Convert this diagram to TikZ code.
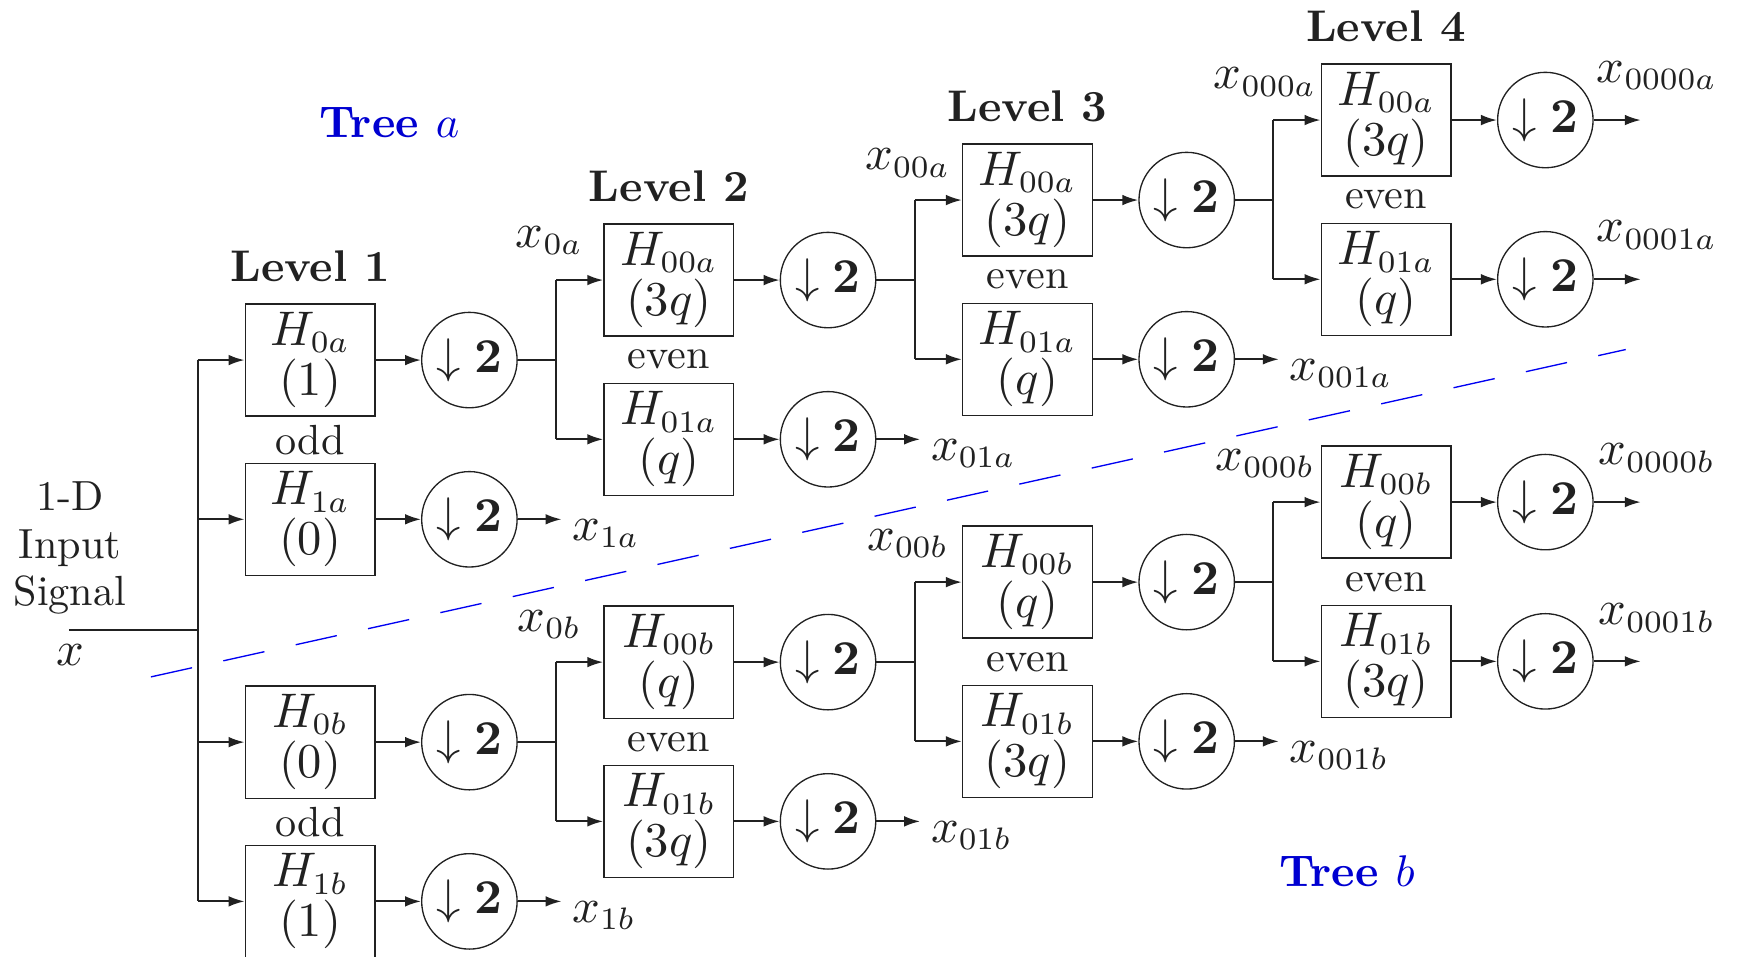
\documentclass[tikz,border=0pt]{standalone}
\usetikzlibrary{arrows.meta}
\definecolor{ink}{gray}{0.13}
\definecolor{treeblue}{rgb}{0,0,0.82}
\definecolor{dashblue}{rgb}{0,0,0.95}
\begin{document}
\begin{tikzpicture}[x=0.25pt,y=-0.25pt,
  filt/.style={draw=ink, line width=0.3pt, minimum width=29.25pt, minimum height=25.25pt,
    inner sep=0pt, align=center, text=ink, font=\fontsize{10.6}{11.25}\selectfont},
  dsm/.style={circle, draw=ink, line width=0.3pt, minimum size=21.5pt, inner sep=0pt, text=ink,
    font=\fontsize{10.5}{12}\selectfont},
  conn/.style={draw=ink, line width=0.45pt},
  arr/.style={conn, -{Latex[length=3.6pt,width=2.4pt]}},
  lab/.style={text=ink, inner sep=0pt, font=\fontsize{10.6}{12.7}\selectfont},
  rlab/.style={text=ink, inner sep=0pt, font=\fontsize{9.5}{10.75}\selectfont},
  head/.style={text=ink, font=\bfseries, inner sep=0pt, anchor=base},
  treelab/.style={text=treeblue, font=\bfseries, inner sep=0pt, anchor=base},
  outlab/.style={lab, anchor=base west}
]
\useasboundingbox (0,0) rectangle (1568,862);

% ---------------- filters (tree a) ----------------
\node[filt] (fa10) at (279.5,324.5) {$H_{0a}$\\$(1)$};
\node[filt] (fa11) at (279.5,468.0) {$H_{1a}$\\$(0)$};
\node[filt] (fa20) at (602.7,252.4) {$H_{00a}$\\$(3q)$};
\node[filt] (fa21) at (602.7,395.9) {$H_{01a}$\\$(q)$};
\node[filt] (fa30) at (925.9,180.3) {$H_{00a}$\\$(3q)$};
\node[filt] (fa31) at (925.9,323.8) {$H_{01a}$\\$(q)$};
\node[filt] (fa40) at (1249.1,108.2) {$H_{00a}$\\$(3q)$};
\node[filt] (fa41) at (1249.1,251.7) {$H_{01a}$\\$(q)$};
% ---------------- filters (tree b) ----------------
\node[filt] (fb10) at (279.5,668.8) {$H_{0b}$\\$(0)$};
\node[filt] (fb11) at (279.5,812.3) {$H_{1b}$\\$(1)$};
\node[filt] (fb20) at (602.7,596.7) {$H_{00b}$\\$(q)$};
\node[filt] (fb21) at (602.7,740.2) {$H_{01b}$\\$(3q)$};
\node[filt] (fb30) at (925.9,524.6) {$H_{00b}$\\$(q)$};
\node[filt] (fb31) at (925.9,668.1) {$H_{01b}$\\$(3q)$};
\node[filt] (fb40) at (1249.1,452.5) {$H_{00b}$\\$(q)$};
\node[filt] (fb41) at (1249.1,596.0) {$H_{01b}$\\$(3q)$};

% ---------------- downsamplers ----------------
\foreach \t in {a,b}{
  \foreach \l/\cx in {1/423,2/746.2,3/1069.4,4/1392.6}{
    \foreach \r in {0,1}{
      \path (f\t\l\r.center) -| coordinate (c\t\l\r) (\cx,0);
      \node[dsm] (d\t\l\r) at (c\t\l\r) {$\downarrow\mathbf{2}$};
      \draw[arr] (f\t\l\r.east) -- (d\t\l\r.west);
    }
  }
}

% ---------------- input ----------------
\coordinate (in) at (62,568);
\coordinate (br1) at (178,568);
\draw[conn] (in) -- (br1);
\draw[conn] (br1 |- fa10.west) -- (br1 |- fb11.west);
\foreach \n in {fa10,fa11,fb10,fb11} \draw[arr] (br1 |- \n.west) -- (\n.west);

% ---------------- branches between levels ----------------
\coordinate (ba2) at (501.2,324.5);
\coordinate (bb2) at (501.2,668.8);
\coordinate (ba3) at (824.4,252.4);
\coordinate (bb3) at (824.4,596.7);
\coordinate (ba4) at (1147.6,180.3);
\coordinate (bb4) at (1147.6,524.6);
\foreach \t in {a,b}{
  \foreach \l/\m in {1/2,2/3,3/4}{
    \draw[conn] (d\t\l0.east) -- (b\t\m);
    \draw[conn] (b\t\m |- f\t\m0.west) -- (b\t\m |- f\t\m1.west);
    \draw[arr] (b\t\m |- f\t\m0.west) -- (f\t\m0.west);
    \draw[arr] (b\t\m |- f\t\m1.west) -- (f\t\m1.west);
  }
}

% ---------------- outputs ----------------
\coordinate (oa1) at (506,468.0);
\coordinate (oa2) at (829.2,395.9);
\coordinate (oa3) at (1152.4,323.8);
\coordinate (oa40) at (1478.6,108.2);
\coordinate (oa41) at (1478.6,251.7);
\coordinate (ob1) at (506,812.3);
\coordinate (ob2) at (829.2,740.2);
\coordinate (ob3) at (1152.4,668.1);
\coordinate (ob40) at (1478.6,452.5);
\coordinate (ob41) at (1478.6,596.0);
\foreach \t in {a,b}{
  \draw[arr] (d\t11.east) -- (o\t1);
  \draw[arr] (d\t21.east) -- (o\t2);
  \draw[arr] (d\t31.east) -- (o\t3);
  \draw[arr] (d\t40.east) -- (o\t40);
  \draw[arr] (d\t41.east) -- (o\t41);
}

% ---------------- output labels ----------------
\node[outlab] (lx1a) at ([shift={(9,19)}]oa1) {$x_{1a}$};
\node[outlab] (lx01a) at ([shift={(9,19)}]oa2) {$x_{01a}$};
\node[outlab] (lx001a) at ([shift={(9,19)}]oa3) {$x_{001a}$};
\node[outlab] (lx1b) at ([shift={(9,19)}]ob1) {$x_{1b}$};
\node[outlab] (lx01b) at ([shift={(9,19)}]ob2) {$x_{01b}$};
\node[outlab] (lx001b) at ([shift={(9,19)}]ob3) {$x_{001b}$};
\node[lab, anchor=base] (lx0000a) at (1493,74) {$x_{0000a}$};
\node[lab, anchor=base] (lx0001a) at (1493,218) {$x_{0001a}$};
\node[lab, anchor=base] (lx0000b) at (1493,419) {$x_{0000b}$};
\node[lab, anchor=base] (lx0001b) at (1493,563) {$x_{0001b}$};

% ---------------- signal labels ----------------
\node[lab, anchor=base] (lx0a) at (495,223) {$x_{0a}$};
\node[lab, anchor=base] (lx0b) at (495,569) {$x_{0b}$};
\node[lab, anchor=base] (lx00a) at (818,153) {$x_{00a}$};
\node[lab, anchor=base] (lx00b) at (818,496) {$x_{00b}$};
\node[lab, anchor=base] (lx000a) at (1140,80) {$x_{000a}$};
\node[lab, anchor=base] (lx000b) at (1140,424) {$x_{000b}$};

% ---------------- odd / even ----------------
\node[rlab] (odda) at (279.5,396.3) {odd};
\node[rlab] (oddb) at (279.5,740.6) {odd};
\node[rlab] (evena2) at (602.7,324.2) {even};
\node[rlab] (evenb2) at (602.7,668.5) {even};
\node[rlab] (evena3) at (925.9,252.1) {even};
\node[rlab] (evenb3) at (925.9,596.4) {even};
\node[rlab] (evena4) at (1249.1,180.0) {even};
\node[rlab] (evenb4) at (1249.1,524.3) {even};

% ---------------- input labels ----------------
\node[rlab, align=center] (inlab) at (63,494) {1-D\\Input\\Signal};
\node[lab] (xin) at (63,590) {$x$};

% ---------------- headings ----------------
\node[head] (lev1) at (279.5,254) {Level 1};
\node[head] (lev2) at (602.7,181.9) {Level 2};
\node[head] (lev3) at (925.9,109.8) {Level 3};
\node[head] (lev4) at (1249.1,37.7) {Level 4};
\node[treelab] (treea) at (351,123.5) {Tree $a$};
\node[treelab] (treeb) at (1214,798.5) {Tree $b$};

% ---------------- separator ----------------
\coordinate (s1) at (136,610);
\coordinate (s2) at (1465,315);
\draw[dashblue, line width=0.3pt, dash pattern=on 9.5pt off 7.2pt] (s1) -- (s2);
\end{tikzpicture}
\end{document}
